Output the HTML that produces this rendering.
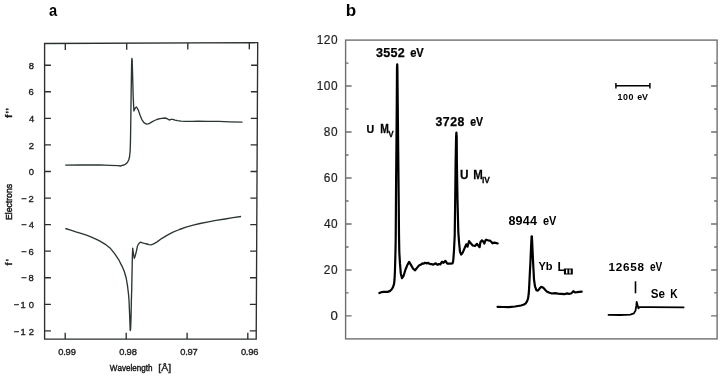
<!DOCTYPE html>
<html><head><meta charset="utf-8">
<style>
html,body{margin:0;padding:0;background:#fff;}
svg{display:block;will-change:transform;}
text{font-family:"Liberation Sans",sans-serif;font-kerning:none;}
</style></head>
<body>
<svg width="724" height="378" viewBox="0 0 724 378">
<rect width="724" height="378" fill="#fff"/>
<text transform="translate(49.07 15.73) scale(0.8618 1)" font-size="16.98" font-weight="bold" fill="#000">a</text>
<text transform="translate(345.77 15.84) scale(1.0532 1)" font-size="16.2" font-weight="bold" fill="#000">b</text>
<g stroke="#2a2f30" stroke-width="1.35" fill="none" stroke-linejoin="miter">
<path d="M44.6 43.5 L257.7 42.6 L256.2 339.1 L44.6 339.1 Z"/>
<path d="M44.6 65.2H50.9 M257.59 65.2H251.09 M44.6 91.77H50.9 M257.45 91.77H250.95 M44.6 118.34H50.9 M257.32 118.34H250.82 M44.6 144.91H50.9 M257.18 144.91H250.68 M44.6 171.48H50.9 M257.05 171.48H250.55 M44.6 198.05H50.9 M256.91 198.05H250.41 M44.6 224.62H50.9 M256.78 224.62H250.28 M44.6 251.19H50.9 M256.64 251.19H250.14 M44.6 277.76H50.9 M256.51 277.76H250.01 M44.6 304.33H50.9 M256.38 304.33H249.88 M44.6 330.9H50.9 M256.24 330.9H249.74 M65.3 43.41V49.91 M126.7 43.15V49.65 M187.8 42.9V49.4 M249.3 42.64V49.14 M65.2 339.1V332.8 M126.2 339.1V332.8 M187.1 339.1V332.8 M247.8 339.1V332.8"/>
</g>
<g stroke="#1c1c1c" stroke-width="0.35">
<text x="28.69" y="68.9" font-size="9.4" fill="#1c1c1c">8</text>
<text x="28.62" y="95.47" font-size="9.4" fill="#1c1c1c">6</text>
<text x="28.88" y="122.04" font-size="9.4" fill="#1c1c1c">4</text>
<text x="28.63" y="148.61" font-size="9.4" fill="#1c1c1c">2</text>
<text x="28.73" y="175.18" font-size="9.4" fill="#1c1c1c">0</text>
<text x="21.34 28.53" y="201.75" font-size="9.4" fill="#1c1c1c">&#8722;2</text>
<text x="21.34 28.78" y="228.32" font-size="9.4" fill="#1c1c1c">&#8722;4</text>
<text x="21.34 28.52" y="254.89" font-size="9.4" fill="#1c1c1c">&#8722;6</text>
<text x="21.34 28.59" y="281.46" font-size="9.4" fill="#1c1c1c">&#8722;8</text>
<text x="13.84 20.62 28.83" y="308.03" font-size="9.4" fill="#1c1c1c">&#8722;10</text>
<text x="13.84 20.62 28.73" y="334.6" font-size="9.4" fill="#1c1c1c">&#8722;12</text>
<text x="58.34 63.25 65.56 70.76" y="355.25" font-size="9.3" fill="#1c1c1c">0.99</text>
<text x="119.34 124.25 126.56 131.8" y="355.25" font-size="9.3" fill="#1c1c1c">0.98</text>
<text x="180.24 185.15 187.46 192.62" y="355.25" font-size="9.3" fill="#1c1c1c">0.97</text>
<text x="240.94 245.85 248.16 253.33" y="355.25" font-size="9.3" fill="#1c1c1c">0.96</text>
<text transform="translate(109.86 371.01) scale(0.8838 1)" font-size="9.12" fill="#1c1c1c" stroke-width="0.45">Wavelength</text>
<text transform="translate(158.24 370.92) scale(1.1735 1)" font-size="9.07" fill="#1c1c1c">[&#197;]</text>
<text transform="translate(12.41 219.3) rotate(-90) scale(0.8964 1)" x="-0.79" y="0" font-size="9.67" stroke-width="0.5" fill="#1c1c1c">Electrons</text>
<text transform="translate(12.2 118) rotate(-90)" x="0 4.6 7.5" y="0" font-size="9.8" font-weight="bold" fill="#1c1c1c">f&#39;&#39;</text>
<text transform="translate(12.2 265.6) rotate(-90)" x="0.1 4.4" y="0" font-size="8.7" font-weight="bold" fill="#1c1c1c">f&#39;</text>
</g>
<g stroke="#2b3535" stroke-width="1.35" fill="none" stroke-linejoin="round">
<path d="M65.2 165.1 L80 165 L100 164.8 L110 165.3 L118 165.6 L120.6 166 L122.2 165.4 L124 165 L125.5 164.2 L127.5 162.3 L128.7 160 L129.6 156.5 L130.2 150 L130.5 140 L130.8 120 L131.2 90 L131.6 65 L131.9 58.4 L132.2 60 L132.6 75 L133.2 97 L133.9 111 L134.6 109.5 L135.4 107.8 L136.5 107 L137.4 108.5 L138.4 110.4 L139.9 114.8 L141.7 119.3 L143.9 122.6 L146.5 124.1 L148 123.9 L149.5 123.3 L152 121.9 L154.5 120.5 L156.9 119.5 L160 118.7 L165.2 118 L167 118.6 L169.3 120 L171 119.4 L172.8 119.3 L175 120.2 L177.6 120.7 L181 121.2 L185.9 121.4 L192 121.3 L198.3 121.1 L208 121.3 L219 121.4 L230 121.8 L242.5 122.1"/>
<path d="M65.3 228.5 L70 229.9 L75.9 231.8 L81 233.3 L86.5 235.1 L92 237.3 L97 239.6 L100 241.2 L105.3 244.3 L110.6 248.6 L114.8 253.9 L119 260.2 L122.2 266.6 L124.3 271.5 L126.2 278 L127.5 285.9 L128.5 294 L129 300 L129.6 313.9 L130.2 330.6 L130.6 329 L131 318.5 L131.4 300 L131.7 290 L132.1 270 L132.4 255 L132.7 248.2 L133.3 253 L134.3 258.3 L135.2 256 L136.2 252 L137.4 246.3 L138.7 243.7 L140.6 242.1 L142.5 242.8 L144.4 243.4 L147 244 L149 244.7 L151 244.8 L153 244.2 L155 243.1 L156.7 242.1 L162 238.3 L167.4 235.1 L173 232.2 L179.5 229.5 L186 227.2 L193.2 225.2 L200 223.5 L208.4 221.9 L216 220.4 L225.1 219 L233 217.7 L241.1 216.5"/>
</g>
<g stroke="#707070" stroke-width="1.4" fill="none">
<rect x="345.6" y="40.1" width="371.5" height="298.8"/>
<path d="M345.6 315.9h6 M717.1 315.9h-6 M345.6 292.92h3 M717.1 292.92h-3 M345.6 269.93h6 M717.1 269.93h-6 M345.6 246.95h3 M717.1 246.95h-3 M345.6 223.97h6 M717.1 223.97h-6 M345.6 200.98h3 M717.1 200.98h-3 M345.6 178h6 M717.1 178h-6 M345.6 155.02h3 M717.1 155.02h-3 M345.6 132.03h6 M717.1 132.03h-6 M345.6 109.05h3 M717.1 109.05h-3 M345.6 86.07h6 M717.1 86.07h-6 M345.6 63.08h3 M717.1 63.08h-3"/>
</g>
<g stroke="#1e1e1e" stroke-width="0.2">
<text transform="translate(330.39 319.98) scale(1.1108 1)" font-size="11.86" fill="#1e1e1e">0</text>
<text x="323.7 331.07" y="274.02" font-size="11.86" fill="#1e1e1e">20</text>
<text x="324.03 331.07" y="228.05" font-size="11.86" fill="#1e1e1e">40</text>
<text x="323.7 331.07" y="182.08" font-size="11.86" fill="#1e1e1e">60</text>
<text x="323.78 331.07" y="136.12" font-size="11.86" fill="#1e1e1e">80</text>
<text x="316.65 323.86 331.07" y="90.15" font-size="11.86" fill="#1e1e1e">100</text>
<text x="316.65 323.86 331.07" y="44.18" font-size="11.86" fill="#1e1e1e">120</text>
</g>
<g stroke="#000" stroke-width="2.2" fill="none" stroke-linejoin="round" stroke-linecap="round">
<path d="M379.4 293 L381.3 292.2 L383.9 291.9 L387.4 291.9 L389.8 291.1 L391.6 289.5 L392.9 287.4 L394 284.2 L394.5 280 L394.9 272 L395.2 262 L395.5 250 L395.7 240 L396.1 180 L396.4 150 L396.8 100 L397 68 L397.2 64.3 L397.4 68 L397.7 100 L398.2 150 L398.7 200 L399 235 L399.3 252 L400 263.9 L400.8 273.4 L402 278.2 L403.6 275.8 L405.5 269.5 L407.5 264.7 L409.1 261.9 L411.1 265.1 L413.1 268.7 L415.1 270.3 L417 267.9 L419 265.5 L420 265.1 L421 264.5 L422.5 263.4 L423.8 263.6 L425.1 262.8 L426.7 263.4 L428.3 262.8 L429.5 263.8 L430.8 264.1 L432 264.2 L433.3 264.7 L434.6 263.8 L435.9 263.4 L436.8 264.4 L437.8 264.7 L439 264 L440.3 264.4 L441.9 261.8 L443.5 262.8 L445.4 260.9 L447.3 263.7 L450 263.7 L452.5 263.5 L453.2 261 L453.9 252 L454.7 236 L455.2 200 L455.6 164 L456.1 137 L456.4 132.6 L456.7 137 L456.9 164 L457.5 200 L458.3 232 L459.2 243.9 L460 251.8 L461.2 254.6 L462.7 252.6 L464.7 247.9 L466.3 244.3 L467.5 246.7 L469.1 241.1 L470.7 243.1 L472.7 245.5 L475 245.9 L477 243.9 L479 246.7 L479.6 247.2 L480.4 242.3 L482 240.3 L483.2 241.5 L484.3 243.6 L485.2 241 L486.1 239.7 L488 240.3 L489.9 240.6 L491.5 242 L492.5 243.3 L493.8 242.6 L495.5 242.9 L497.7 243.5"/>
<path d="M497.5 306.8 L503 307 L509 307.1 L515 306.5 L521 305.5 L524 304.5 L525.7 303.4 L527 301.3 L528.1 298.3 L528.8 293 L529.3 284.5 L529.9 272 L530.5 260.7 L531.1 246 L531.6 236.3 L531.9 236.3 L532.4 247 L532.9 258.3 L533.5 270 L534 279.5 L535 286.3 L536.4 290.2 L537.6 290.6 L538.8 289.6 L540 288 L541.2 286.9 L542.4 287.2 L543.6 288.1 L545.3 290 L547.1 291.7 L549.5 292.8 L551.9 293.5 L555 293.2 L558 293.6 L561.4 293.9 L564.5 294.2 L567 293.4 L569 293.8 L571 293.5 L572.2 292.5 L573.3 291.2 L575 292.3 L577 292.2 L579.5 291.9 L581.7 291.7"/>
</g>
<g stroke="#000" stroke-width="1.8" fill="none" stroke-linejoin="round" stroke-linecap="round">
<path d="M608.5 314.8 L620 315 L630.3 314.6 L633.9 313.4 L635.5 310.6 L636.3 305.9 L636.7 301.9 L637.5 305 L638.4 308.3 L639.4 307.1 L650 307.1 L683.6 307.4"/>
</g>
<path d="M635.5 281.3V293.3" stroke="#000" stroke-width="1.6"/>
<path d="M615.9 85.7H649.9 M615.9 82.9V88.5 M649.9 82.9V88.5" stroke="#000" stroke-width="1.45" fill="none"/>
<g transform="translate(0 0.3)" stroke="#000" stroke-width="0.25">
<text x="376.01 383.28 390.55 397.83" y="56.46" font-size="12.54" font-weight="bold" fill="#000">3552</text>
<text transform="translate(410.17 56.48) scale(0.8724 1)" font-size="12.76" font-weight="bold" fill="#000">eV</text>
<text x="435.52 442.86 450.21 457.56" y="125.56" font-size="12.26" font-weight="bold" fill="#000">3728</text>
<text transform="translate(470.19 125.58) scale(0.8448 1)" font-size="12.47" font-weight="bold" fill="#000">eV</text>
</g>
<g transform="translate(0 0.3)">
<text x="508.4 515.59 522.78 529.98" y="224.48" font-size="12.57" font-weight="bold" fill="#000">8944</text>
<text transform="translate(542.97 224.48) scale(0.8591 1)" font-size="12.76" font-weight="bold" fill="#000">eV</text>
<text x="608.56 615.81 623.05 630.3 637.54" y="270.49" font-size="11.72" font-weight="bold" fill="#000">12658</text>
<text transform="translate(649.91 270.48) scale(0.8498 1)" font-size="11.9" font-weight="bold" fill="#000">eV</text>
<text x="617.54 623.08 628.62" y="99.51" font-size="8.9" font-weight="bold" fill="#000">100</text>
<text transform="translate(637.15 99.51) scale(0.9784 1)" font-size="9.03" font-weight="bold" fill="#000">eV</text>
</g>
<g transform="translate(0 0.3)" stroke="#000" stroke-width="0.25">
<text transform="translate(366.46 132.49) scale(0.9060 1)" font-size="11.75" font-weight="bold" fill="#000">U</text>
<text transform="translate(380.31 132.6) scale(0.8639 1)" font-size="11.92" font-weight="bold" fill="#000">M</text>
<text transform="translate(388.34 136.4) scale(0.8330 1)" font-size="9.74" font-weight="bold" fill="#000">V</text>
<text transform="translate(459.89 178.28) scale(0.9261 1)" font-size="12.76" font-weight="bold" fill="#000">U</text>
<text transform="translate(473.23 178.4) scale(0.8844 1)" font-size="12.94" font-weight="bold" fill="#000">M</text>
<text transform="translate(482.04 182.6) scale(0.8605 1)" font-size="9.74" font-weight="bold" fill="#000">IV</text>
</g>
<g transform="translate(0 0.3)">
<text transform="translate(538.41 270.09) scale(0.9451 1)" font-size="11.71" font-weight="bold" fill="#000">Yb</text>
<text transform="translate(557.49 270.2) scale(1.0014 1)" font-size="12.06" font-weight="bold" fill="#000">L</text>
<path d="M563.9 268.1H572.8V274.3H563.9Z M566 269.1V273.2H567.4V269.1Z M569.3 269.1V273.2H570.7V269.1Z" fill="#000" fill-rule="evenodd"/>
<text transform="translate(650.76 298.17) scale(0.8955 1)" font-size="12.99" font-weight="bold" fill="#000">Se</text>
<text transform="translate(670.32 298) scale(0.8173 1)" font-size="12.5" font-weight="bold" fill="#000">K</text>
</g>
</svg>
</body></html>
